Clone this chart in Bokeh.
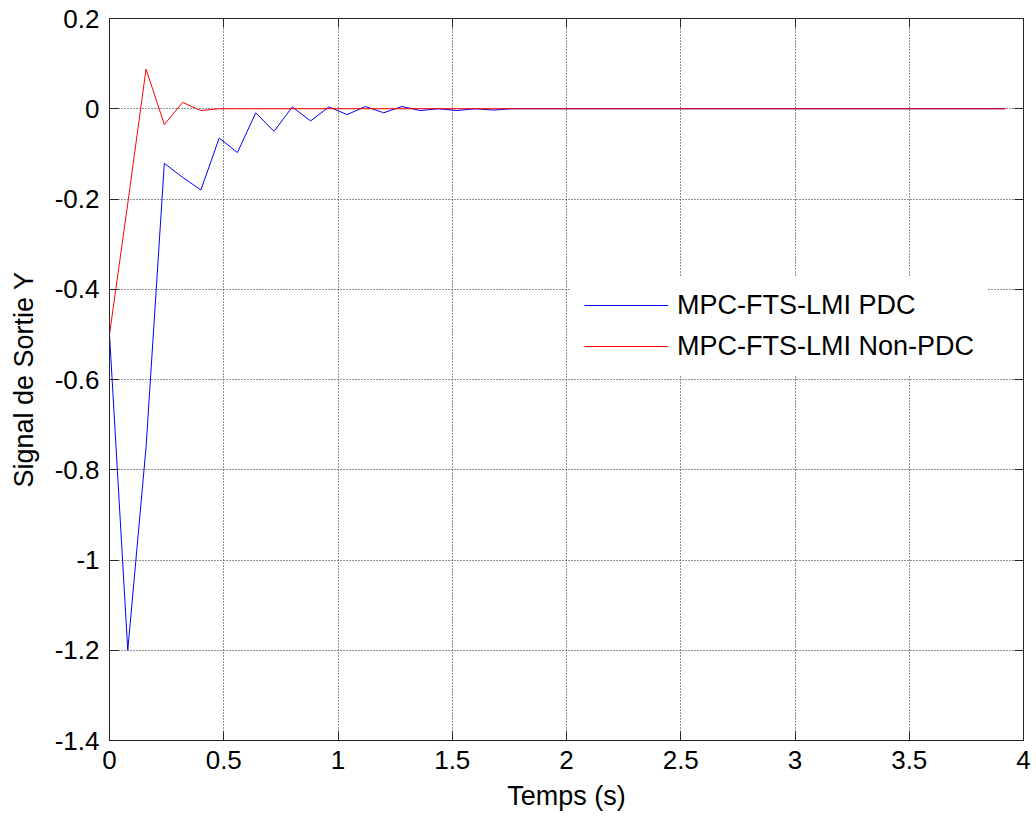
from bokeh.plotting import figure
from bokeh.models import (LinearAxis, FixedTicker, CustomJSTickFormatter, Legend,
                          LegendItem, Range1d)
from bokeh.embed import file_html
from bokeh.resources import INLINE

# ---- data ----
temps = [0.00, 0.08, 0.16, 0.24, 0.32, 0.40, 0.48, 0.56, 0.64, 0.72,
         0.80, 0.88, 0.96, 1.04, 1.12, 1.20, 1.28, 1.36, 1.44, 1.52,
         1.60, 1.68, 1.76, 1.84, 1.92, 2.00, 2.08, 2.16, 2.24, 2.32,
         2.40, 2.48, 2.56, 2.64, 2.72, 2.80, 2.88, 2.96, 3.04, 3.12,
         3.20, 3.28, 3.36, 3.44, 3.52, 3.60, 3.68, 3.76, 3.84, 3.92]

y_pdc = [-0.500, -1.200, -0.750, -0.121, -0.152, -0.180, -0.065, -0.097, -0.009, -0.050,
         0.004, -0.027, 0.004, -0.013, 0.005, -0.009, 0.005, -0.004, 0.000, -0.004,
         0.000, -0.003, 0.000, 0.000, 0.000, 0.000, 0.000, 0.000, 0.000, 0.000,
         0.000, 0.000, 0.000, 0.000, 0.000, 0.000, 0.000, 0.000, 0.000, 0.000,
         0.000, 0.000, 0.000, 0.000, 0.000, 0.000, 0.000, 0.000, 0.000, 0.000]

y_nonpdc = [-0.500, -0.210, 0.088, -0.035, 0.014, -0.004, 0.000, 0.000, 0.000, 0.000,
            0.000, 0.000, 0.000, 0.000, 0.000, 0.000, 0.000, 0.000, 0.000, 0.000,
            0.000, 0.000, 0.000, 0.000, 0.000, 0.000, 0.000, 0.000, 0.000, 0.000,
            0.000, 0.000, 0.000, 0.000, 0.000, 0.000, 0.000, 0.000, 0.000, 0.000,
            0.000, 0.000, 0.000, 0.000, 0.000, 0.000, 0.000, 0.000, 0.000, 0.000]

x_ticks = [0, 0.5, 1, 1.5, 2, 2.5, 3, 3.5, 4]
y_ticks = [-1.4, -1.2, -1, -0.8, -0.6, -0.4, -0.2, 0, 0.2]

label_pdc = "MPC-FTS-LMI PDC"
label_nonpdc = "MPC-FTS-LMI Non-PDC"
x_label = "Temps (s)"
y_label = "Signal de Sortie Y"

FONT = "Liberation Sans"
FS_TICK = "26px"
FS_LABEL = "27px"
AXC = "#262626"

p = figure(width=1036, height=819, output_backend="svg", toolbar_location=None,
           x_range=Range1d(0, 4), y_range=Range1d(-1.4, 0.2),
           min_border_left=109, min_border_right=13,
           min_border_top=18, min_border_bottom=79,
           background_fill_color="white", border_fill_color="white")
p.outline_line_color = AXC
p.outline_line_width = 1

fmt = CustomJSTickFormatter(code="return String(Math.round(tick*10)/10)")
blank = CustomJSTickFormatter(code="return ''")

def style_axis(ax, ticks, labels=True):
    ax.ticker = FixedTicker(ticks=ticks)
    ax.formatter = fmt if labels else blank
    ax.major_tick_in = 9
    ax.major_tick_out = 0
    ax.minor_tick_line_color = None
    ax.axis_line_color = AXC
    ax.major_tick_line_color = AXC
    ax.major_label_text_font = FONT
    ax.major_label_text_font_size = FS_TICK if labels else "0px"
    ax.major_label_text_color = "black"
    ax.axis_label_text_font = FONT
    ax.axis_label_text_font_size = FS_LABEL
    ax.axis_label_text_font_style = "normal"
    ax.axis_label_text_color = "black"
    ax.major_label_standoff = 10 if labels else 0

style_axis(p.xaxis[0], x_ticks)
style_axis(p.yaxis[0], y_ticks)
p.xaxis[0].axis_label = x_label
p.yaxis[0].axis_label = y_label
p.xaxis[0].axis_label_standoff = 9
p.yaxis[0].axis_label_standoff = 13

top_ax = LinearAxis()
style_axis(top_ax, x_ticks, labels=False)
p.add_layout(top_ax, "above")
right_ax = LinearAxis()
style_axis(right_ax, y_ticks, labels=False)
p.add_layout(right_ax, "right")

for g, ticks in ((p.xgrid[0], x_ticks), (p.ygrid[0], y_ticks)):
    g.ticker = FixedTicker(ticks=ticks)
    g.grid_line_color = "#262626"
    g.grid_line_dash = "1 2"
    g.grid_line_width = 1

r_pdc = p.line(temps, y_pdc, line_color="#0000FF", line_width=1)
r_non = p.line(temps, y_nonpdc, line_color="#FF0000", line_width=1)

legend = Legend(items=[LegendItem(label=label_pdc, renderers=[r_pdc]),
                       LegendItem(label=label_nonpdc, renderers=[r_non])],
                location=(462, 365.5))
legend.label_text_font = FONT
legend.label_text_font_size = FS_LABEL
legend.label_text_color = "black"
legend.glyph_width = 84
legend.glyph_height = 30
legend.label_height = 30
legend.label_standoff = 9
legend.spacing = 10
legend.padding = 13
legend.margin = 0
legend.border_line_alpha = 0
legend.background_fill_color = "white"
legend.background_fill_alpha = 1
p.add_layout(legend)

open("out.html", "w").write(file_html(p, INLINE))
